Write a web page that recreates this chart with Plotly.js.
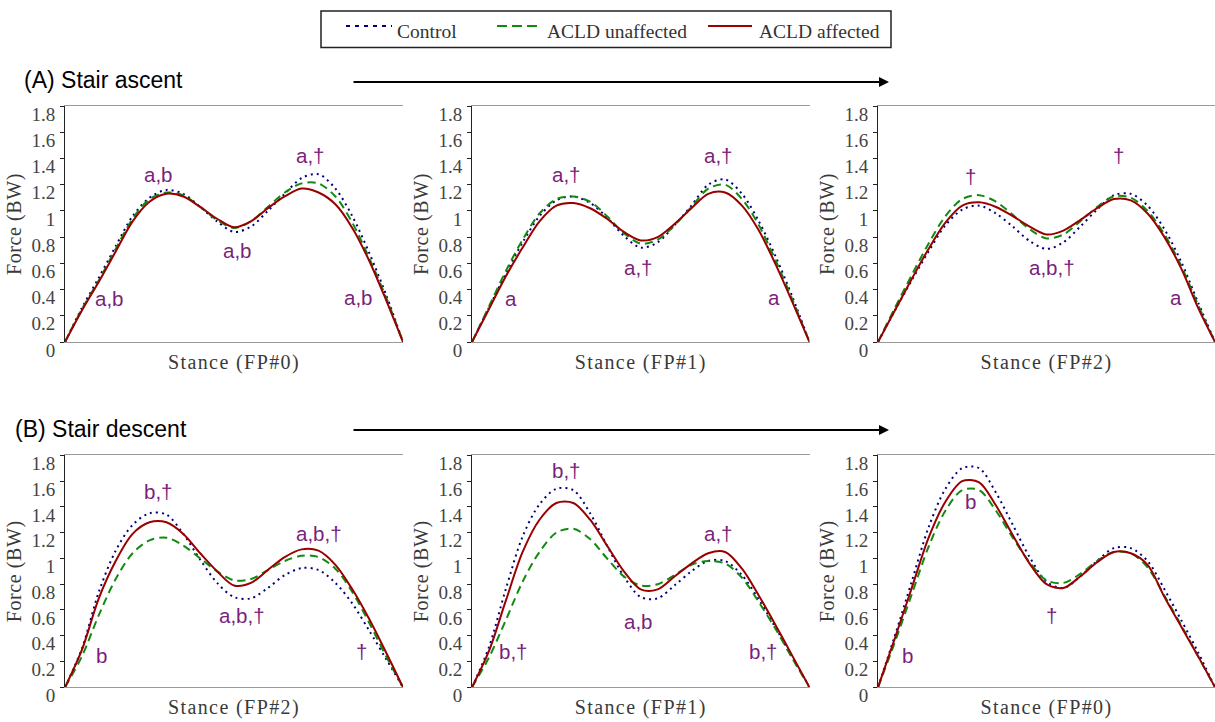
<!DOCTYPE html>
<html>
<head>
<meta charset="utf-8">
<script src="https://cdn.plot.ly/plotly-3.0.1.min.js"></script>
<style>
  html, body { margin: 0; padding: 0; background: #fff; }
  #chart { width: 1215px; height: 722px; }
  text[class^="x"][class$="title"] { letter-spacing: 1.4px; }
  text[class^="y"][class$="title"] { letter-spacing: 0.6px; }
</style>
</head>
<body>
<div id="chart"></div>
<script>
// ---------------- DATA ----------------
// percentage of stance
const stancePct = [0, 5, 10, 15, 20, 25, 30, 35, 40, 45, 50, 55, 60, 65, 70, 75, 80, 85, 90, 95, 100];

const seriesNames = ["Control", "ACLD unaffected", "ACLD affected"];
const panelTitles = ["Stance (FP#0)", "Stance (FP#1)", "Stance (FP#2)", "Stance (FP#2)", "Stance (FP#1)", "Stance (FP#0)"];
const yTitle = "Force (BW)";
const sectionTitles = ["(A) Stair ascent", "(B) Stair descent"];
const yTickVals = [0, 0.2, 0.4, 0.6, 0.8, 1, 1.2, 1.4, 1.6, 1.8];

// (A) Stair ascent - FP#0
const ascFP0Control    = [0, 0.26, 0.49, 0.73, 0.96, 1.10, 1.16, 1.13, 1.03, 0.92, 0.84, 0.88, 1.00, 1.13, 1.25, 1.28, 1.17, 0.96, 0.68, 0.36, 0];
const ascFP0Unaffected = [0, 0.25, 0.47, 0.71, 0.94, 1.09, 1.14, 1.12, 1.03, 0.93, 0.87, 0.92, 1.03, 1.14, 1.21, 1.21, 1.11, 0.91, 0.64, 0.34, 0];
const ascFP0Affected   = [0, 0.24, 0.46, 0.69, 0.92, 1.07, 1.13, 1.11, 1.03, 0.94, 0.875, 0.92, 1.02, 1.11, 1.17, 1.14, 1.05, 0.87, 0.62, 0.32, 0];
// (A) Stair ascent - FP#1
const ascFP1Control    = [0, 0.26, 0.52, 0.76, 0.96, 1.08, 1.11, 1.06, 0.95, 0.81, 0.72, 0.76, 0.89, 1.04, 1.20, 1.24, 1.13, 0.92, 0.65, 0.34, 0];
const ascFP1Unaffected = [0, 0.27, 0.54, 0.78, 0.98, 1.09, 1.11, 1.07, 0.96, 0.83, 0.75, 0.78, 0.89, 1.03, 1.17, 1.20, 1.09, 0.89, 0.62, 0.32, 0];
const ascFP1Affected   = [0, 0.25, 0.50, 0.72, 0.92, 1.04, 1.06, 1.02, 0.94, 0.84, 0.775, 0.80, 0.90, 1.02, 1.13, 1.14, 1.04, 0.85, 0.59, 0.30, 0];
// (A) Stair ascent - FP#2
const ascFP2Control    = [0, 0.24, 0.47, 0.69, 0.89, 1.01, 1.04, 0.98, 0.88, 0.77, 0.71, 0.76, 0.88, 1.01, 1.12, 1.13, 1.04, 0.86, 0.61, 0.30, 0];
const ascFP2Unaffected = [0, 0.26, 0.51, 0.75, 0.96, 1.09, 1.12, 1.07, 0.97, 0.86, 0.79, 0.82, 0.92, 1.03, 1.11, 1.10, 1.00, 0.82, 0.58, 0.28, 0];
const ascFP2Affected   = [0, 0.24, 0.48, 0.71, 0.91, 1.04, 1.065, 1.03, 0.96, 0.88, 0.82, 0.85, 0.93, 1.02, 1.09, 1.08, 0.98, 0.80, 0.56, 0.26, 0];
// (B) Stair descent - FP#2
const descFP2Control    = [0, 0.30, 0.74, 1.06, 1.26, 1.35, 1.34, 1.19, 0.99, 0.81, 0.70, 0.69, 0.77, 0.87, 0.925, 0.91, 0.81, 0.65, 0.44, 0.22, 0];
const descFP2Unaffected = [0, 0.24, 0.56, 0.84, 1.04, 1.14, 1.16, 1.10, 1.00, 0.90, 0.83, 0.84, 0.91, 0.98, 1.02, 1.01, 0.92, 0.74, 0.50, 0.24, 0];
const descFP2Affected   = [0, 0.29, 0.69, 0.98, 1.19, 1.28, 1.28, 1.19, 1.04, 0.90, 0.79, 0.81, 0.91, 1.01, 1.07, 1.06, 0.95, 0.76, 0.53, 0.27, 0];
// (B) Stair descent - FP#1
const descFP1Control    = [0, 0.31, 0.76, 1.17, 1.42, 1.54, 1.53, 1.35, 1.10, 0.86, 0.70, 0.69, 0.79, 0.90, 0.98, 0.98, 0.87, 0.68, 0.46, 0.23, 0];
const descFP1Unaffected = [0, 0.23, 0.52, 0.82, 1.05, 1.20, 1.23, 1.15, 1.00, 0.86, 0.79, 0.80, 0.87, 0.95, 0.98, 0.96, 0.85, 0.66, 0.45, 0.22, 0];
const descFP1Affected   = [0, 0.28, 0.67, 1.05, 1.30, 1.43, 1.43, 1.30, 1.10, 0.90, 0.76, 0.76, 0.86, 0.96, 1.04, 1.05, 0.92, 0.71, 0.48, 0.24, 0];
// (B) Stair descent - FP#0
const descFP0Control    = [0, 0.40, 0.82, 1.24, 1.54, 1.70, 1.70, 1.51, 1.26, 1.01, 0.82, 0.77, 0.86, 0.98, 1.08, 1.08, 0.98, 0.76, 0.52, 0.27, 0];
const descFP0Unaffected = [0, 0.35, 0.72, 1.09, 1.37, 1.53, 1.53, 1.37, 1.16, 0.97, 0.83, 0.81, 0.88, 0.98, 1.05, 1.04, 0.93, 0.71, 0.48, 0.24, 0];
const descFP0Affected   = [0, 0.38, 0.77, 1.16, 1.44, 1.60, 1.59, 1.41, 1.18, 0.96, 0.80, 0.77, 0.86, 0.97, 1.05, 1.04, 0.95, 0.70, 0.47, 0.24, 0];

// significance labels per panel: [text, % stance, force]
const sigLabels = [
  [["a,b", 27.6, 1.28], ["a,\u2020", 72.5, 1.42], ["a,b", 51, 0.70], ["a,b", 13.3, 0.33], ["a,b", 86.8, 0.34]],
  [["a,\u2020", 28.1, 1.28], ["a,\u2020", 73.1, 1.42], ["a,\u2020", 49.4, 0.57], ["a", 11.6, 0.33], ["a", 89.4, 0.34]],
  [["\u2020", 27.3, 1.26], ["\u2020", 71.5, 1.42], ["a,b,\u2020", 51.5, 0.57], ["a", 88.4, 0.34]],
  [["b,\u2020", 27.6, 1.52], ["a,b,\u2020", 75.1, 1.19], ["a,b,\u2020", 52.4, 0.56], ["b", 10.7, 0.25], ["\u2020", 87.8, 0.28]],
  [["b,\u2020", 28.1, 1.68], ["a,\u2020", 73.1, 1.19], ["a,b", 49.4, 0.51], ["b,\u2020", 12.3, 0.28], ["b,\u2020", 86.4, 0.28]],
  [["b", 27.3, 1.44], ["\u2020", 51.5, 0.56], ["b", 8.7, 0.25]]
];

const panels = [
  [ascFP0Control, ascFP0Unaffected, ascFP0Affected],
  [ascFP1Control, ascFP1Unaffected, ascFP1Affected],
  [ascFP2Control, ascFP2Unaffected, ascFP2Affected],
  [descFP2Control, descFP2Unaffected, descFP2Affected],
  [descFP1Control, descFP1Unaffected, descFP1Affected],
  [descFP0Control, descFP0Unaffected, descFP0Affected]
];

// ---------------- STYLE ----------------
const W = 1215, H = 722;
const serif = "Liberation Serif, Times New Roman, serif";
const sans = "Liberation Sans, Arial, sans-serif";
const purple = "#7a1f7c";
const lineStyles = [
  {color: "#00007f", width: 2, dash: "2px,4px"},
  {color: "#118a11", width: 2, dash: "8px,5px"},
  {color: "#990000", width: 2, dash: "solid"}
];
const xDomains = [[65 / W, 403 / W], [472 / W, 809.5 / W], [878 / W, 1]];
const yDomains = [[(H - 342) / H, (H - 106) / H], [(H - 687.3) / H, (H - 455.3) / H]];

const traces = [];
const layout = {
  width: W, height: H,
  margin: {l: 0, r: 0, t: 0, b: 0},
  paper_bgcolor: "#fff", plot_bgcolor: "#fff",
  showlegend: false,
  shapes: [], annotations: []
};

panels.forEach((series, p) => {
  const n = p + 1;
  const xa = n === 1 ? "x" : "x" + n;
  const ya = n === 1 ? "y" : "y" + n;
  series.forEach((vals, s) => {
    traces.push({
      type: "scatter", mode: "lines",
      x: stancePct, y: vals,
      name: seriesNames[s],
      xaxis: xa, yaxis: ya,
      line: Object.assign({shape: "spline", smoothing: 0.9}, lineStyles[s]),
      hoverinfo: "skip"
    });
  });
  const row = p < 3 ? 0 : 1;
  const col = p % 3;
  layout[n === 1 ? "xaxis" : "xaxis" + n] = {
    domain: xDomains[col], anchor: ya, range: [0, 100],
    showgrid: false, zeroline: false, showticklabels: false, ticks: "",
    showline: true, linecolor: "#9a9a9a", linewidth: 1, mirror: true,
    fixedrange: true, automargin: false,
    title: {text: panelTitles[p], font: {family: serif, size: 20, color: "#3a3a3a"}, standoff: 12}
  };
  layout[n === 1 ? "yaxis" : "yaxis" + n] = {
    domain: yDomains[row], anchor: xa, range: [0, 1.8],
    tickvals: yTickVals, ticktext: yTickVals.map(v => String(v)),
    showgrid: false, zeroline: false,
    ticks: "outside", ticklen: 4, tickwidth: 1, tickcolor: "#222",
    ticklabelshift: 8, ticklabelstandoff: 1,
    tickfont: {family: serif, size: 19, color: "#444"},
    showline: true, linecolor: "#222", linewidth: 1,
    fixedrange: true, automargin: false,
    title: {text: yTitle, font: {family: serif, size: 20, color: "#3a3a3a"}, standoff: 4}
  };
  sigLabels[p].forEach(([t, xv, yv]) => {
    layout.annotations.push({
      xref: xa, yref: ya, x: xv, y: yv, text: t, showarrow: false,
      xanchor: "center", yanchor: "middle",
      font: {family: sans, size: 20.5, color: purple}
    });
  });
});

// Section titles
layout.annotations.push({xref: "paper", yref: "paper", x: 22 / W, y: (H - 80) / H, text: sectionTitles[0],
  showarrow: false, xanchor: "left", yanchor: "middle", font: {family: sans, size: 23, color: "#000"}});
layout.annotations.push({xref: "paper", yref: "paper", x: 13 / W, y: (H - 429) / H, text: sectionTitles[1],
  showarrow: false, xanchor: "left", yanchor: "middle", font: {family: sans, size: 23, color: "#000"}});

// Direction arrows
[82, 430].forEach(yy => {
  layout.annotations.push({xref: "paper", yref: "paper", x: 889 / W, y: (H - yy) / H, text: "",
    showarrow: true, axref: "pixel", ayref: "pixel", ax: -537, ay: 0,
    arrowhead: 2, arrowsize: 1, arrowwidth: 2, arrowcolor: "#000"});
});

// Legend (drawn as box + sample lines + labels)
layout.shapes.push({type: "rect", xref: "paper", yref: "paper", x0: 321 / W, x1: 891 / W, y0: (H - 47.5) / H, y1: (H - 11) / H,
  line: {color: "#222", width: 1.5}, fillcolor: "rgba(0,0,0,0)"});
const legX = [[346, 392, 395], [497, 541, 545], [708, 752, 757]];
legX.forEach(([a, b, t], i) => {
  layout.shapes.push({type: "line", xref: "paper", yref: "paper", x0: a / W, x1: b / W, y0: (H - 26) / H, y1: (H - 26) / H,
    line: {color: lineStyles[i].color, width: 2, dash: i === 0 ? "4px,5px" : (i === 1 ? "10px,5px" : "solid")}});
  layout.annotations.push({xref: "paper", yref: "paper", x: t / W, y: (H - 31) / H, text: seriesNames[i],
    showarrow: false, xanchor: "left", yanchor: "middle", font: {family: serif, size: 19.5, color: "#333"}});
});

Plotly.newPlot("chart", traces, layout, {staticPlot: true, displayModeBar: false});
</script>
</body>
</html>
